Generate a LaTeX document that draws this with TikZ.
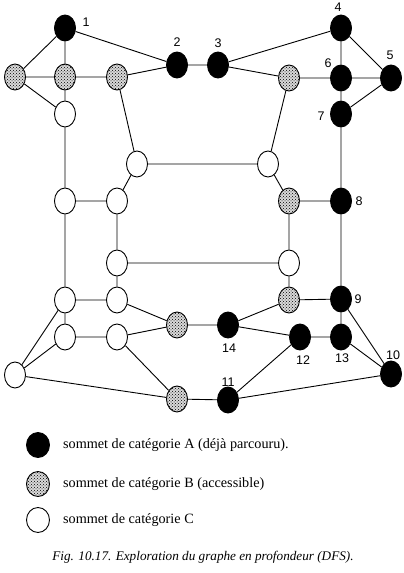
\documentclass[tikz,border=0pt]{standalone}
\usepackage{fontspec}
\setmainfont{Liberation Serif}
\newfontfamily\numfont{Liberation Sans}
\usetikzlibrary{shapes.geometric,patterns}
\begin{document}
\begin{tikzpicture}[x=1pt,y=-1pt,
 vtx/.style={ellipse,draw,line width=0.9pt,minimum width=21pt,minimum height=26pt,inner sep=0pt},
 catA/.style={vtx,fill=black},
 catB/.style={vtx,preaction={fill=gray!30},pattern=crosshatch dots},
 catC/.style={vtx,fill=white},
 leg/.style={minimum width=23pt,minimum height=25pt},
 lbl/.style={font=\numfont\fontsize{12.5}{12.5}\selectfont,inner sep=0pt},
 legtxt/.style={font=\fontsize{14.2}{14.2}\selectfont,inner sep=0pt,anchor=west},
 edge/.style={line width=0.9pt}]
\useasboundingbox[fill=white] (0,0) rectangle (404,573);
% category A
\node[catA] (n1) at (65,28) {};
\node[catA] (n2) at (177,65) {};
\node[catA] (n3) at (218,65) {};
\node[catA] (n4) at (341,28) {};
\node[catA] (n5) at (391,78) {};
\node[catA] (n6) at (341,78) {};
\node[catA] (n7) at (341,114) {};
\node[catA] (n8) at (341,201) {};
\node[catA] (n9) at (341,299) {};
\node[catA] (n10) at (391,374) {};
\node[catA] (n11) at (228,400) {};
\node[catA] (n12) at (300,337) {};
\node[catA] (n13) at (341,337) {};
\node[catA] (n14) at (228,325) {};
% category B
\node[catB] (bA) at (15,77) {};
\node[catB] (bB) at (65,77) {};
\node[catB] (bC) at (117,77) {};
\node[catB] (bD) at (289,78) {};
\node[catB] (bE) at (289,201) {};
\node[catB] (bF) at (289,300) {};
\node[catB] (bG) at (177,325) {};
\node[catB] (bH) at (177,399) {};
% category C
\node[catC] (c1) at (65,114) {};
\node[catC] (c2) at (137,164) {};
\node[catC] (c3) at (268,164) {};
\node[catC] (c4) at (65,201) {};
\node[catC] (c5) at (117,201) {};
\node[catC] (c6) at (117,263) {};
\node[catC] (c7) at (289,263) {};
\node[catC] (c8) at (65,300) {};
\node[catC] (c9) at (117,300) {};
\node[catC] (c10) at (65,337) {};
\node[catC] (c11) at (117,337) {};
\node[catC] (c12) at (15,375) {};
% edges
\draw[edge] (n1)--(bA) (n1)--(bB) (n1)--(n2)
 (bA)--(bB) (bB)--(bC) (bC)--(n2) (bA)--(c1) (bB)--(c1)
 (n2)--(n3) (n3)--(n4) (n3)--(bD)
 (bD)--(n6) (n4)--(n6) (n4)--(n5) (n6)--(n5) (n6)--(n7) (n5)--(n7)
 (bC)--(c2) (bD)--(c3) (c2)--(c3)
 (c1)--(c4) (c4)--(c5) (c2)--(c5)
 (c3)--(bE) (bE)--(n8) (n7)--(n8) (n8)--(n9)
 (bE)--(c7) (c5)--(c6) (c6)--(c7)
 (c4)--(c8) (c6)--(c9) (c8)--(c9)
 (c7)--(bF) (bF)--(n9)
 (c8)--(c10) (c10)--(c11) (c9)--(bG) (c11)--(bG) (c11)--(bH)
 (bG)--(n14) (bF)--(n14) (n14)--(n12) (n12)--(n13) (n9)--(n13)
 (n9)--(n10) (n13)--(n10) (n12)--(n11) (bH)--(n11) (n11)--(n10)
 (c12)--(c8) (c12)--(c10) (c12)--(bH);
% labels
\node[lbl] (l1) at (86,22) {1};
\node[lbl] (l2) at (177,42) {2};
\node[lbl] (l3) at (218,43) {3};
\node[lbl] (l4) at (338,7) {4};
\node[lbl] (l5) at (390,55) {5};
\node[lbl] (l6) at (328,63) {6};
\node[lbl] (l7) at (321,116) {7};
\node[lbl] (l8) at (359,201) {8};
\node[lbl] (l9) at (358,299) {9};
\node[lbl] (l10) at (393,355) {10};
\node[lbl] (l11) at (228,382) {11};
\node[lbl] (l12) at (303,360) {12};
\node[lbl] (l13) at (342,358) {13};
\node[lbl] (l14) at (229,348) {14};
% legend
\node[catA,leg] (kA) at (38,445) {};
\node[catB,leg] (kB) at (38,484) {};
\node[catC,leg] (kC) at (38,520) {};
\node[legtxt] (tA) at (63,445) {sommet de catégorie A (déjà parcouru).};
\node[legtxt] (tB) at (63,484) {sommet de catégorie B (accessible)};
\node[legtxt] (tC) at (63,520) {sommet de catégorie C};
\node[font=\itshape\fontsize{13.2}{13.2}\selectfont,inner sep=0pt] (cap) at (203,557) {Fig. 10.17. Exploration du graphe en profondeur (DFS).};
\end{tikzpicture}
\end{document}
